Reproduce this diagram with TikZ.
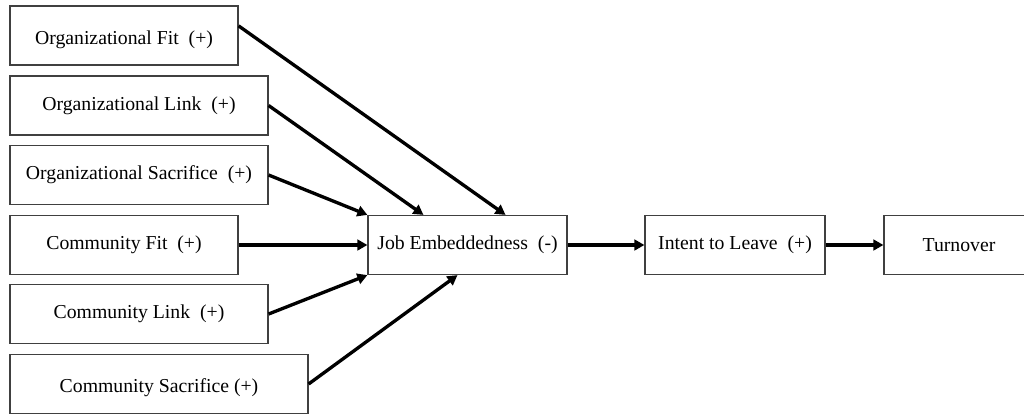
\documentclass[tikz,border=0pt]{standalone}
\usepackage{fontspec}
\setmainfont{Liberation Serif}
\usetikzlibrary{arrows.meta,calc}
\tikzset{
  box/.style={draw=black!75, line width=0.9pt, fill=white, inner sep=0pt,
    minimum height=59*0.75pt, font=\fontsize{14.8}{17}\selectfont},
  link/.style={line width=2.5pt, -{Triangle[length=7.5pt,width=8pt]}}
}
\begin{document}
\begin{tikzpicture}[x=0.75pt,y=-0.75pt]
\useasboundingbox (0,0) rectangle (1024,415);
\node[box, minimum width=228*0.75pt] (A) at (124,35.5) {\rule{0pt}{17pt}Organizational Fit~ (+)};
\node[box, minimum width=258*0.75pt] (B) at (139,105.5) {Organizational Link~ (+)};
\node[box, minimum width=258*0.75pt] (C) at (139,175) {Organizational Sacrifice~ (+)};
\node[box, minimum width=228*0.75pt] (D) at (124,245) {Community Fit~ (+)};
\node[box, minimum width=258*0.75pt] (E) at (139,314) {Community Link~ (+)};
\node[box, minimum width=298*0.75pt] (F) at (159,384) {\rule{0pt}{16pt}Community Sacrifice (+)};
\node[box, minimum width=199*0.75pt] (J) at (467.5,245) {Job Embeddedness~ (-)};
\node[box, minimum width=180*0.75pt] (I) at (735,245) {Intent to Leave~ (+)};
\node[box, minimum width=150*0.75pt] (T) at (959,245) {Turnover};
\coordinate (Aout) at ($(A.north east)!0.34!(A.south east)$);
\draw[link] (Aout) -- ($(J.north west)!0.69!(J.north east)$);
\draw[link] (B.east) -- ($(J.north west)!0.28!(J.north east)$);
\draw[link] (C.east) -- (J.north west);
\draw[link] (D.east) -- (J.west);
\draw[link] (E.east) -- (J.south west);
\draw[link] (F.east) -- ($(J.south west)!0.45!(J.south east)$);
\draw[link] (J.east) -- (I.west);
\draw[link] (I.east) -- (T.west);
\end{tikzpicture}
\end{document}
